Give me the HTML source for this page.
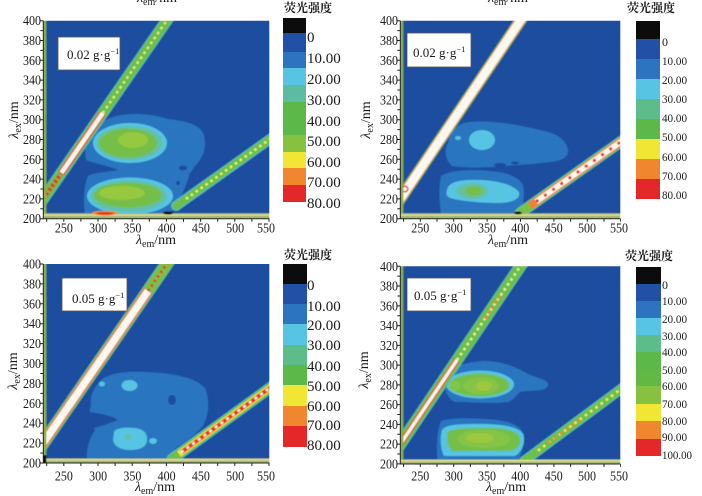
<!DOCTYPE html>
<html><head><meta charset="utf-8">
<style>
html,body{margin:0;padding:0;background:#fff;width:702px;height:496px;overflow:hidden}
svg{display:block}
.t{font-family:"Liberation Serif","Noto Serif CJK SC",serif;fill:#1a1a1a}
.cj{font-family:"Liberation Serif","Noto Serif CJK SC","Noto Sans CJK SC",serif;font-weight:bold;fill:#1a1a1a}
</style></head>
<body>
<svg width="702" height="496" viewBox="0 0 702 496" xmlns="http://www.w3.org/2000/svg">
<defs>
<clipPath id="cTL"><rect x="43.3" y="20.7" width="226" height="198"/></clipPath>
<clipPath id="cTR"><rect x="400.3" y="20.7" width="220" height="198"/></clipPath>
<clipPath id="cBL"><rect x="43.3" y="264" width="226" height="199"/></clipPath>
<clipPath id="cBR"><rect x="400.3" y="266.3" width="220" height="197.7"/></clipPath>
<filter id="bl" x="-5%" y="-5%" width="110%" height="110%"><feGaussianBlur stdDeviation="0.6"/></filter>
</defs>

<!-- partial top titles -->
<text class="t" x="157" y="2" font-size="14" text-anchor="middle"><tspan font-style="italic">λ</tspan><tspan font-size="10" dy="3">em</tspan><tspan dy="-3">/nm</tspan></text>
<text class="t" x="508" y="2" font-size="14" text-anchor="middle"><tspan font-style="italic">λ</tspan><tspan font-size="10" dy="3">em</tspan><tspan dy="-3">/nm</tspan></text>

<!-- ================= TL ================= -->
<g clip-path="url(#cTL)"><g filter="url(#bl)">
<rect x="40" y="17" width="233" height="205" fill="#1e4d9f"/>
<path fill="#2c74c0" d="M110,118 C125,112 150,113 168,119 C185,121 200,124 204,135 C207,148 203,158 195,166 C188,175 186,188 180,198 C176,205 172,210 170,214 L85,214 C83,200 84,185 88,176 C95,172 110,172 118,170 C110,166 95,164 86,160 C84,148 86,136 95,128 C100,123 105,120 110,118 Z"/>
<ellipse cx="183" cy="168" rx="4" ry="2.5" fill="#1e4d9f"/>
<ellipse cx="192" cy="176" rx="3" ry="4" fill="#1e4d9f"/>
<ellipse cx="178" cy="183" rx="2" ry="2" fill="#1e4d9f"/>
<ellipse cx="130" cy="143" rx="37" ry="20" fill="#56c4e2"/>
<ellipse cx="129.5" cy="143" rx="33" ry="17" fill="#62c0a8"/>
<ellipse cx="128" cy="143" rx="29" ry="14.5" fill="#74bf4a"/>
<ellipse cx="133" cy="140" rx="15" ry="8" fill="#96c840"/>
<ellipse cx="130" cy="196" rx="43" ry="18.5" fill="#56c4e2"/>
<ellipse cx="129" cy="196" rx="38" ry="15.5" fill="#62c0a8"/>
<ellipse cx="128" cy="195" rx="34" ry="12.5" fill="#74bf4a"/>
<ellipse cx="122" cy="193" rx="23" ry="7" fill="#96c840"/>
<!-- band2 -->
<line x1="176" y1="206" x2="285" y2="128.4" stroke="#56bcc4" stroke-width="10" stroke-linecap="round"/>
<line x1="176" y1="206" x2="285" y2="128.4" stroke="#6cc048" stroke-width="7.5" stroke-linecap="round"/>
<line x1="186" y1="198.9" x2="285" y2="128.4" stroke="#f0f070" stroke-width="2.5" stroke-dasharray="2.5 3.5"/>
<!-- band1 -->
<line x1="37.6" y1="207.2" x2="172.3" y2="12.5" stroke="#58b8b0" stroke-width="11.5"/>
<line x1="37.6" y1="207.2" x2="172.3" y2="12.5" stroke="#6cc048" stroke-width="9"/>
<line x1="61.3" y1="173" x2="102.8" y2="113" stroke="#e83028" stroke-width="7"/>
<line x1="61.3" y1="173" x2="102.8" y2="113" stroke="#fbf7ee" stroke-width="4.5"/>
<line x1="102.8" y1="113" x2="172.3" y2="12.5" stroke="#f4ec80" stroke-width="2.2" stroke-dasharray="2.5 3.5"/>
<line x1="37.6" y1="207.2" x2="61.3" y2="173" stroke="#e83028" stroke-width="4.5" stroke-dasharray="3 2"/>
<!-- strips -->
<rect x="40" y="17" width="6.3" height="205" fill="#86b04a"/>
<rect x="40" y="213.3" width="233" height="8" fill="#9eb872"/>
<rect x="40" y="214.3" width="233" height="1.5" fill="#e6e09a"/>
<ellipse cx="105" cy="213" rx="13" ry="2.3" fill="#f08a30"/>
<ellipse cx="105" cy="213.5" rx="9" ry="1.2" fill="#e02a28"/>
<ellipse cx="168" cy="213" rx="5" ry="1.6" fill="#111"/>
</g></g>
<path d="M43.3,20.7 V218.7 H269.3" fill="none" stroke="#222" stroke-width="1"/>
<line x1="41.8" y1="20.2" x2="41.8" y2="219.5" stroke="#222" stroke-width="3" stroke-dasharray="1 8.9"/>
<line x1="46.2" y1="220.2" x2="270" y2="220.2" stroke="#222" stroke-width="3" stroke-dasharray="1 16.1"/>
<g class="t" font-size="13.5" text-anchor="end">
<text x="41" y="25.2" textLength="18" lengthAdjust="spacingAndGlyphs">400</text>
<text x="41" y="45" textLength="18" lengthAdjust="spacingAndGlyphs">380</text>
<text x="41" y="64.8" textLength="18" lengthAdjust="spacingAndGlyphs">360</text>
<text x="41" y="84.6" textLength="18" lengthAdjust="spacingAndGlyphs">340</text>
<text x="41" y="104.4" textLength="18" lengthAdjust="spacingAndGlyphs">320</text>
<text x="41" y="124.2" textLength="18" lengthAdjust="spacingAndGlyphs">300</text>
<text x="41" y="144" textLength="18" lengthAdjust="spacingAndGlyphs">280</text>
<text x="41" y="163.8" textLength="18" lengthAdjust="spacingAndGlyphs">260</text>
<text x="41" y="183.6" textLength="18" lengthAdjust="spacingAndGlyphs">240</text>
<text x="41" y="203.4" textLength="18" lengthAdjust="spacingAndGlyphs">220</text>
<text x="41" y="223.2" textLength="18" lengthAdjust="spacingAndGlyphs">200</text>
</g>
<g class="t" font-size="13.5" text-anchor="middle">
<text x="63.9" y="232.5" textLength="18" lengthAdjust="spacingAndGlyphs">250</text>
<text x="98.1" y="232.5" textLength="18" lengthAdjust="spacingAndGlyphs">300</text>
<text x="132.4" y="232.5" textLength="18" lengthAdjust="spacingAndGlyphs">350</text>
<text x="166.6" y="232.5" textLength="18" lengthAdjust="spacingAndGlyphs">400</text>
<text x="200.9" y="232.5" textLength="18" lengthAdjust="spacingAndGlyphs">450</text>
<text x="235.1" y="232.5" textLength="18" lengthAdjust="spacingAndGlyphs">500</text>
<text x="266" y="232.5" textLength="18" lengthAdjust="spacingAndGlyphs">550</text>
</g>
<text class="t" x="156" y="244" font-size="14" text-anchor="middle"><tspan font-style="italic">λ</tspan><tspan font-size="10" dy="3">em</tspan><tspan dy="-3">/nm</tspan></text>
<text class="t" transform="translate(18,120) rotate(-90)" font-size="14" text-anchor="middle"><tspan font-style="italic">λ</tspan><tspan font-size="10" dy="3">ex</tspan><tspan dy="-3">/nm</tspan></text>
<rect x="58" y="37" width="62" height="33" fill="#fff" stroke="#555" stroke-width="0.8"/>
<text class="t" x="67" y="59" font-size="13">0.02 g·g<tspan font-size="8.5" dy="-5">−1</tspan></text>
<!-- TL legend -->
<text class="cj" x="308" y="12" font-size="12" text-anchor="middle">荧光强度</text>
<rect x="283" y="18" width="23" height="15" fill="#0c0c0c"/>
<rect x="283" y="33" width="23" height="19" fill="#2250a6"/>
<rect x="283" y="52" width="23" height="16" fill="#2c74c0"/>
<rect x="283" y="68" width="23" height="17" fill="#56c4e2"/>
<rect x="283" y="85" width="23" height="17" fill="#5cbca2"/>
<rect x="283" y="102" width="23" height="33" fill="#5cb848"/>
<rect x="283" y="135" width="23" height="17" fill="#86c240"/>
<rect x="283" y="152" width="23" height="16" fill="#f2e634"/>
<rect x="283" y="168" width="23" height="17" fill="#f0862e"/>
<rect x="283" y="185" width="23" height="17" fill="#e4282a"/>
<g class="t" font-size="15">
<text x="307" y="42">0</text>
<text x="307" y="63">10.00</text>
<text x="307" y="84">20.00</text>
<text x="307" y="105">30.00</text>
<text x="307" y="126">40.00</text>
<text x="307" y="146">50.00</text>
<text x="307" y="167">60.00</text>
<text x="307" y="187">70.00</text>
<text x="307" y="208">80.00</text>
</g>

<!-- ================= TR ================= -->
<g clip-path="url(#cTR)"><g filter="url(#bl)">
<rect x="397" y="17" width="227" height="205" fill="#1e4d9f"/>
<path fill="#2c74c0" d="M448,143 C450,130 458,123 470,122 C490,120 515,124 540,130 C555,133 566,138 568,150 C569,157 562,161 550,162 C535,164 520,165 505,166 C485,168 465,168 452,166 C445,160 444,150 448,143 Z"/>
<path fill="#2c74c0" d="M441,176 C450,170 470,169 490,171 C505,172 518,176 523,185 C525,195 523,205 521,214 L441,214 C439,200 439,185 441,176 Z"/>
<ellipse cx="500" cy="165" rx="6" ry="2" fill="#1e4d9f"/>
<ellipse cx="515" cy="163" rx="4" ry="1.5" fill="#1e4d9f"/>
<ellipse cx="482" cy="140" rx="13" ry="10" fill="#56c4e2"/>
<ellipse cx="458" cy="138" rx="3" ry="2" fill="#56c4e2"/>
<path fill="#56c4e2" d="M447,190 C448,183 458,180 470,180 C490,179 512,183 519,192 C521,199 512,203 498,203 C480,203 460,201 450,198 C446,196 446,193 447,190 Z"/>
<ellipse cx="472" cy="191" rx="16" ry="8" fill="#62c0a8"/>
<ellipse cx="474" cy="191" rx="9" ry="5" fill="#74bf4a"/>
<!-- band2 -->
<line x1="520" y1="213" x2="630" y2="135.2" stroke="#50bcc8" stroke-width="11" stroke-linecap="round"/>
<line x1="520" y1="213" x2="630" y2="135.2" stroke="#78c048" stroke-width="9.5" stroke-linecap="round"/>
<line x1="530" y1="206" x2="630" y2="135.2" stroke="#f08030" stroke-width="8"/>
<line x1="536" y1="201.7" x2="630" y2="135.2" stroke="#fcf8f0" stroke-width="5.5"/>
<line x1="536" y1="201.7" x2="630" y2="135.2" stroke="#e4282a" stroke-width="3" stroke-dasharray="3 7"/>
<!-- band1 -->
<line x1="394.7" y1="207.2" x2="525.9" y2="12.4" stroke="#7cc050" stroke-width="11.5"/>
<line x1="394.7" y1="207.2" x2="525.9" y2="12.4" stroke="#f08a30" stroke-width="10"/>
<line x1="394.7" y1="207.2" x2="525.9" y2="12.4" stroke="#fcf8f0" stroke-width="8.5"/>
<circle cx="405" cy="189" r="2.8" fill="none" stroke="#e4282a" stroke-width="1.5"/>
<!-- strips -->
<rect x="397" y="17" width="6.3" height="205" fill="#86b04a"/>
<rect x="397" y="213.3" width="227" height="8" fill="#9eb872"/>
<rect x="397" y="214.3" width="227" height="1.5" fill="#e6e09a"/>
<ellipse cx="518" cy="213" rx="4" ry="1.5" fill="#111"/>
</g></g>
<path d="M400.3,20.7 V218.7 H620.3" fill="none" stroke="#222" stroke-width="1"/>
<line x1="398.8" y1="20.2" x2="398.8" y2="219.5" stroke="#222" stroke-width="3" stroke-dasharray="1 8.9"/>
<line x1="403.1" y1="220.2" x2="621" y2="220.2" stroke="#222" stroke-width="3" stroke-dasharray="1 15.7"/>
<g class="t" font-size="13.5" text-anchor="end">
<text x="398" y="25.2" textLength="18" lengthAdjust="spacingAndGlyphs">400</text>
<text x="398" y="45" textLength="18" lengthAdjust="spacingAndGlyphs">380</text>
<text x="398" y="64.8" textLength="18" lengthAdjust="spacingAndGlyphs">360</text>
<text x="398" y="84.6" textLength="18" lengthAdjust="spacingAndGlyphs">340</text>
<text x="398" y="104.4" textLength="18" lengthAdjust="spacingAndGlyphs">320</text>
<text x="398" y="124.2" textLength="18" lengthAdjust="spacingAndGlyphs">300</text>
<text x="398" y="144" textLength="18" lengthAdjust="spacingAndGlyphs">280</text>
<text x="398" y="163.8" textLength="18" lengthAdjust="spacingAndGlyphs">260</text>
<text x="398" y="183.6" textLength="18" lengthAdjust="spacingAndGlyphs">240</text>
<text x="398" y="203.4" textLength="18" lengthAdjust="spacingAndGlyphs">220</text>
<text x="398" y="223.2" textLength="18" lengthAdjust="spacingAndGlyphs">200</text>
</g>
<g class="t" font-size="13.5" text-anchor="middle">
<text x="420.3" y="232.5" textLength="18" lengthAdjust="spacingAndGlyphs">250</text>
<text x="453.7" y="232.5" textLength="18" lengthAdjust="spacingAndGlyphs">300</text>
<text x="487" y="232.5" textLength="18" lengthAdjust="spacingAndGlyphs">350</text>
<text x="520.3" y="232.5" textLength="18" lengthAdjust="spacingAndGlyphs">400</text>
<text x="553.7" y="232.5" textLength="18" lengthAdjust="spacingAndGlyphs">450</text>
<text x="587" y="232.5" textLength="18" lengthAdjust="spacingAndGlyphs">500</text>
<text x="619" y="232.5" textLength="18" lengthAdjust="spacingAndGlyphs">550</text>
</g>
<text class="t" x="508" y="244" font-size="14" text-anchor="middle"><tspan font-style="italic">λ</tspan><tspan font-size="10" dy="3">em</tspan><tspan dy="-3">/nm</tspan></text>
<text class="t" transform="translate(370,120) rotate(-90)" font-size="14" text-anchor="middle"><tspan font-style="italic">λ</tspan><tspan font-size="10" dy="3">ex</tspan><tspan dy="-3">/nm</tspan></text>
<rect x="407" y="33" width="64" height="34" fill="#fff" stroke="#555" stroke-width="0.8"/>
<text class="t" x="413" y="57" font-size="13">0.02 g·g<tspan font-size="8.5" dy="-5">−1</tspan></text>
<!-- TR legend -->
<text class="cj" x="651" y="12" font-size="12" text-anchor="middle">荧光强度</text>
<rect x="636" y="21" width="24" height="18" fill="#0c0c0c"/>
<rect x="636" y="39" width="24" height="20" fill="#2250a6"/>
<rect x="636" y="59" width="24" height="20" fill="#2c74c0"/>
<rect x="636" y="79" width="24" height="20" fill="#56c4e2"/>
<rect x="636" y="99" width="24" height="20" fill="#5cbc8a"/>
<rect x="636" y="119" width="24" height="20" fill="#5cb848"/>
<rect x="636" y="139" width="24" height="20" fill="#f2e634"/>
<rect x="636" y="159" width="24" height="20" fill="#f0862e"/>
<rect x="636" y="179" width="24" height="20" fill="#e4282a"/>
<g class="t" font-size="12">
<text x="662" y="46">0</text>
<text x="662" y="65" textLength="25" lengthAdjust="spacingAndGlyphs">10.00</text>
<text x="662" y="84" textLength="25" lengthAdjust="spacingAndGlyphs">20.00</text>
<text x="662" y="103" textLength="25" lengthAdjust="spacingAndGlyphs">30.00</text>
<text x="662" y="122" textLength="25" lengthAdjust="spacingAndGlyphs">40.00</text>
<text x="662" y="141" textLength="25" lengthAdjust="spacingAndGlyphs">50.00</text>
<text x="662" y="161" textLength="25" lengthAdjust="spacingAndGlyphs">60.00</text>
<text x="662" y="180" textLength="25" lengthAdjust="spacingAndGlyphs">70.00</text>
<text x="662" y="199" textLength="25" lengthAdjust="spacingAndGlyphs">80.00</text>
</g>

<!-- ================= BL ================= -->
<g clip-path="url(#cBL)"><g filter="url(#bl)">
<rect x="40" y="260" width="233" height="207" fill="#1e4d9f"/>
<path fill="#2c74c0" d="M100,381 C110,372 130,370 160,373 C180,375 195,378 205,388 C210,400 209,415 203,426 C195,435 185,442 176,448 C172,453 170,458 168,463 L87,463 C86,452 88,440 95,430 C90,425 88,415 91,405 C90,398 92,390 100,381 Z"/>
<path fill="#1e4d9f" d="M88,412 C98,413 110,415 118,420 C108,424 98,427 90,429 Z"/>
<ellipse cx="172" cy="400" rx="4" ry="5" fill="#1e4d9f"/>
<ellipse cx="129.5" cy="385.5" rx="8" ry="5.5" fill="#56c4e2"/>
<ellipse cx="102" cy="384" rx="3" ry="2.5" fill="#56c4e2"/>
<path fill="#56c4e2" d="M114,432 C116,428 125,427 135,428 C144,429 148,434 147,441 C146,447 140,450 130,450 C120,450 114,446 113,440 Z"/>
<ellipse cx="128" cy="437" rx="4" ry="3" fill="#62c0a8"/>
<ellipse cx="153" cy="441" rx="4" ry="3" fill="#56c4e2"/>
<!-- band2 -->
<line x1="172" y1="459" x2="280" y2="380.6" stroke="#56bcc4" stroke-width="11" stroke-linecap="round"/>
<line x1="172" y1="459" x2="280" y2="380.6" stroke="#6cc048" stroke-width="9" stroke-linecap="round"/>
<line x1="179" y1="454" x2="280" y2="380.6" stroke="#f2e634" stroke-width="6.5"/>
<line x1="181" y1="452.5" x2="280" y2="380.6" stroke="#e83028" stroke-width="4"/>
<line x1="181" y1="452.5" x2="280" y2="380.6" stroke="#fcf8f0" stroke-width="2.5" stroke-dasharray="3 4"/>
<!-- band1 -->
<line x1="37.6" y1="451.2" x2="172.3" y2="255.8" stroke="#5cb8a8" stroke-width="13"/>
<line x1="37.6" y1="451.2" x2="172.3" y2="255.8" stroke="#78c048" stroke-width="11.5"/>
<line x1="37.6" y1="451.2" x2="148" y2="291" stroke="#f08838" stroke-width="10"/>
<line x1="37.6" y1="451.2" x2="148" y2="291" stroke="#e83028" stroke-width="8.8"/>
<line x1="37.6" y1="451.2" x2="148" y2="291" stroke="#fcf8f0" stroke-width="7.5"/>
<line x1="148" y1="291" x2="172.3" y2="255.8" stroke="#e83028" stroke-width="3" stroke-dasharray="2.5 3"/>
<!-- strips -->
<rect x="40" y="260" width="6.3" height="207" fill="#86b04a"/>
<rect x="40" y="458.5" width="233" height="8" fill="#9eb872"/>
<rect x="40" y="459" width="233" height="1.6" fill="#e6e09a"/>
<rect x="40" y="455" width="6.3" height="10" fill="#111"/>
</g></g>
<path d="M43.3,264 V463 H269.3" fill="none" stroke="#222" stroke-width="1"/>
<line x1="41.8" y1="263.5" x2="41.8" y2="463.8" stroke="#222" stroke-width="3" stroke-dasharray="1 8.95"/>
<line x1="46.2" y1="464.5" x2="270" y2="464.5" stroke="#222" stroke-width="3" stroke-dasharray="1 16.1"/>
<g class="t" font-size="13.5" text-anchor="end">
<text x="41" y="268.5" textLength="18" lengthAdjust="spacingAndGlyphs">400</text>
<text x="41" y="288.4" textLength="18" lengthAdjust="spacingAndGlyphs">380</text>
<text x="41" y="308.3" textLength="18" lengthAdjust="spacingAndGlyphs">360</text>
<text x="41" y="328.2" textLength="18" lengthAdjust="spacingAndGlyphs">340</text>
<text x="41" y="348.1" textLength="18" lengthAdjust="spacingAndGlyphs">320</text>
<text x="41" y="368" textLength="18" lengthAdjust="spacingAndGlyphs">300</text>
<text x="41" y="387.9" textLength="18" lengthAdjust="spacingAndGlyphs">280</text>
<text x="41" y="407.8" textLength="18" lengthAdjust="spacingAndGlyphs">260</text>
<text x="41" y="427.7" textLength="18" lengthAdjust="spacingAndGlyphs">240</text>
<text x="41" y="447.6" textLength="18" lengthAdjust="spacingAndGlyphs">220</text>
<text x="41" y="467.5" textLength="18" lengthAdjust="spacingAndGlyphs">200</text>
</g>
<g class="t" font-size="13.5" text-anchor="middle">
<text x="63.9" y="480.5" textLength="18" lengthAdjust="spacingAndGlyphs">250</text>
<text x="98.1" y="480.5" textLength="18" lengthAdjust="spacingAndGlyphs">300</text>
<text x="132.4" y="480.5" textLength="18" lengthAdjust="spacingAndGlyphs">350</text>
<text x="166.6" y="480.5" textLength="18" lengthAdjust="spacingAndGlyphs">400</text>
<text x="200.9" y="480.5" textLength="18" lengthAdjust="spacingAndGlyphs">450</text>
<text x="235.1" y="480.5" textLength="18" lengthAdjust="spacingAndGlyphs">500</text>
<text x="266" y="480.5" textLength="18" lengthAdjust="spacingAndGlyphs">550</text>
</g>
<text class="t" x="155" y="491" font-size="14" text-anchor="middle"><tspan font-style="italic">λ</tspan><tspan font-size="10" dy="3">em</tspan><tspan dy="-3">/nm</tspan></text>
<text class="t" transform="translate(17,371) rotate(-90)" font-size="14" text-anchor="middle"><tspan font-style="italic">λ</tspan><tspan font-size="10" dy="3">ex</tspan><tspan dy="-3">/nm</tspan></text>
<rect x="62" y="278" width="65" height="33" fill="#fff" stroke="#555" stroke-width="0.8"/>
<text class="t" x="72" y="303" font-size="13">0.05 g·g<tspan font-size="8.5" dy="-5">−1</tspan></text>
<!-- BL legend -->
<text class="cj" x="308" y="259" font-size="12" text-anchor="middle">荧光强度</text>
<rect x="283" y="264" width="24" height="20" fill="#0c0c0c"/>
<rect x="283" y="284" width="24" height="20" fill="#2250a6"/>
<rect x="283" y="304" width="24" height="20" fill="#2c74c0"/>
<rect x="283" y="324" width="24" height="21" fill="#56c4e2"/>
<rect x="283" y="345" width="24" height="20" fill="#5cbc8a"/>
<rect x="283" y="365" width="24" height="20" fill="#5cb848"/>
<rect x="283" y="385" width="24" height="21" fill="#f2e634"/>
<rect x="283" y="406" width="24" height="20" fill="#f0862e"/>
<rect x="283" y="426" width="24" height="21" fill="#e4282a"/>
<g class="t" font-size="15">
<text x="307" y="290">0</text>
<text x="307" y="311">10.00</text>
<text x="307" y="330">20.00</text>
<text x="307" y="350">30.00</text>
<text x="307" y="371">40.00</text>
<text x="307" y="391">50.00</text>
<text x="307" y="411">60.00</text>
<text x="307" y="430">70.00</text>
<text x="307" y="450">80.00</text>
</g>

<!-- ================= BR ================= -->
<g clip-path="url(#cBR)"><g filter="url(#bl)">
<rect x="397" y="262" width="227" height="206" fill="#1e4d9f"/>
<path fill="#2c74c0" d="M446,378 C452,366 465,362 484,361 C500,361 515,366 528,374 C540,379 550,380 548,386 C545,392 530,390 520,392 C515,396 514,400 508,402 C490,404 470,402 455,402 C447,398 443,390 446,378 Z"/>
<path fill="#2c74c0" d="M441,421 C455,417 475,418 498,420 C512,422 522,427 524,435 C525,445 521,452 518,464 L438,464 C436,450 437,430 441,421 Z"/>
<ellipse cx="480" cy="384.5" rx="34" ry="14" fill="#56c4e2"/>
<ellipse cx="479.5" cy="385" rx="30" ry="11.5" fill="#74bf4a"/>
<ellipse cx="481" cy="386" rx="18" ry="8.5" fill="#84c446"/>
<ellipse cx="484" cy="386" rx="8" ry="5" fill="#9cc83e"/>
<ellipse cx="455" cy="386" rx="6" ry="5" fill="#84c446"/>
<path fill="#56c4e2" d="M442,430 C446,424 460,424 480,424 C500,424 518,426 523,434 C526,442 522,452 515,456 L444,456 C440,448 440,437 442,430 Z"/>
<path fill="#74bf4a" d="M448,432 C452,428 470,428 490,428 C508,428 519,432 520,439 C521,446 516,451 505,451 L452,451 C447,445 446,437 448,432 Z"/>
<ellipse cx="484" cy="439" rx="27" ry="9" fill="#84c446"/>
<ellipse cx="480" cy="438" rx="14" ry="5" fill="#9cc83e"/>
<!-- band2 -->
<line x1="524" y1="461" x2="630" y2="382.3" stroke="#56bcc4" stroke-width="10" stroke-linecap="round"/>
<line x1="524" y1="461" x2="630" y2="382.3" stroke="#6cc048" stroke-width="8" stroke-linecap="round"/>
<line x1="538" y1="450.6" x2="630" y2="382.3" stroke="#f4ec70" stroke-width="2.5" stroke-dasharray="2.5 4"/>
<line x1="548" y1="443.2" x2="580" y2="419.4" stroke="#f08030" stroke-width="3" stroke-dasharray="2.5 5"/>
<!-- band1 -->
<line x1="394.7" y1="452.5" x2="525.9" y2="258" stroke="#58b8b0" stroke-width="12"/>
<line x1="394.7" y1="452.5" x2="525.9" y2="258" stroke="#6cc048" stroke-width="10"/>
<line x1="394.7" y1="452.5" x2="457" y2="360" stroke="#e83028" stroke-width="6"/>
<line x1="394.7" y1="452.5" x2="457" y2="360" stroke="#fcf8f0" stroke-width="3.5"/>
<line x1="457" y1="360" x2="525.9" y2="258" stroke="#f4f0b0" stroke-width="2.4" stroke-dasharray="2.5 3.5"/>
<line x1="485" y1="318.7" x2="500" y2="296.5" stroke="#f08030" stroke-width="3" stroke-dasharray="2.5 3.5"/>
<!-- strips -->
<rect x="397" y="262" width="6.3" height="206" fill="#86b04a"/>
<rect x="397" y="459.5" width="227" height="8" fill="#9eb872"/>
<rect x="397" y="460" width="227" height="1.6" fill="#e6e09a"/>
</g></g>
<path d="M400.3,266.3 V464 H620.3" fill="none" stroke="#222" stroke-width="1"/>
<line x1="398.8" y1="265.8" x2="398.8" y2="464.8" stroke="#222" stroke-width="3" stroke-dasharray="1 8.88"/>
<line x1="403.1" y1="465.5" x2="621" y2="465.5" stroke="#222" stroke-width="3" stroke-dasharray="1 15.7"/>
<g class="t" font-size="13.5" text-anchor="end">
<text x="398" y="270.8" textLength="18" lengthAdjust="spacingAndGlyphs">400</text>
<text x="398" y="290.6" textLength="18" lengthAdjust="spacingAndGlyphs">380</text>
<text x="398" y="310.3" textLength="18" lengthAdjust="spacingAndGlyphs">360</text>
<text x="398" y="330.1" textLength="18" lengthAdjust="spacingAndGlyphs">340</text>
<text x="398" y="349.9" textLength="18" lengthAdjust="spacingAndGlyphs">320</text>
<text x="398" y="369.7" textLength="18" lengthAdjust="spacingAndGlyphs">300</text>
<text x="398" y="389.4" textLength="18" lengthAdjust="spacingAndGlyphs">280</text>
<text x="398" y="409.2" textLength="18" lengthAdjust="spacingAndGlyphs">260</text>
<text x="398" y="429" textLength="18" lengthAdjust="spacingAndGlyphs">240</text>
<text x="398" y="448.7" textLength="18" lengthAdjust="spacingAndGlyphs">220</text>
<text x="398" y="468.5" textLength="18" lengthAdjust="spacingAndGlyphs">200</text>
</g>
<g class="t" font-size="13.5" text-anchor="middle">
<text x="420.3" y="480.5" textLength="18" lengthAdjust="spacingAndGlyphs">250</text>
<text x="453.7" y="480.5" textLength="18" lengthAdjust="spacingAndGlyphs">300</text>
<text x="487" y="480.5" textLength="18" lengthAdjust="spacingAndGlyphs">350</text>
<text x="520.3" y="480.5" textLength="18" lengthAdjust="spacingAndGlyphs">400</text>
<text x="553.7" y="480.5" textLength="18" lengthAdjust="spacingAndGlyphs">450</text>
<text x="587" y="480.5" textLength="18" lengthAdjust="spacingAndGlyphs">500</text>
<text x="619" y="480.5" textLength="18" lengthAdjust="spacingAndGlyphs">550</text>
</g>
<text class="t" x="506" y="491" font-size="14" text-anchor="middle"><tspan font-style="italic">λ</tspan><tspan font-size="10" dy="3">em</tspan><tspan dy="-3">/nm</tspan></text>
<text class="t" transform="translate(368,370) rotate(-90)" font-size="14" text-anchor="middle"><tspan font-style="italic">λ</tspan><tspan font-size="10" dy="3">ex</tspan><tspan dy="-3">/nm</tspan></text>
<rect x="407" y="278" width="64" height="33" fill="#fff" stroke="#555" stroke-width="0.8"/>
<text class="t" x="414" y="300" font-size="13">0.05 g·g<tspan font-size="8.5" dy="-5">−1</tspan></text>
<!-- BR legend -->
<text class="cj" x="649" y="260" font-size="12" text-anchor="middle">荧光强度</text>
<rect x="636" y="267" width="25" height="17" fill="#0c0c0c"/>
<rect x="636" y="284" width="25" height="17" fill="#2250a6"/>
<rect x="636" y="301" width="25" height="17" fill="#2c74c0"/>
<rect x="636" y="318" width="25" height="17" fill="#56c4e2"/>
<rect x="636" y="335" width="25" height="17" fill="#5cbc8a"/>
<rect x="636" y="352" width="25" height="18" fill="#5cb848"/>
<rect x="636" y="370" width="25" height="16" fill="#62b844"/>
<rect x="636" y="386" width="25" height="18" fill="#86c240"/>
<rect x="636" y="404" width="25" height="17" fill="#f2e634"/>
<rect x="636" y="421" width="25" height="18" fill="#f0862e"/>
<rect x="636" y="439" width="25" height="17" fill="#e4282a"/>
<g class="t" font-size="12">
<text x="662" y="289">0</text>
<text x="662" y="305" textLength="25" lengthAdjust="spacingAndGlyphs">10.00</text>
<text x="662" y="323" textLength="25" lengthAdjust="spacingAndGlyphs">20.00</text>
<text x="662" y="340" textLength="25" lengthAdjust="spacingAndGlyphs">30.00</text>
<text x="662" y="356" textLength="25" lengthAdjust="spacingAndGlyphs">40.00</text>
<text x="662" y="374" textLength="25" lengthAdjust="spacingAndGlyphs">50.00</text>
<text x="662" y="390" textLength="25" lengthAdjust="spacingAndGlyphs">60.00</text>
<text x="662" y="408" textLength="25" lengthAdjust="spacingAndGlyphs">70.00</text>
<text x="662" y="425" textLength="25" lengthAdjust="spacingAndGlyphs">80.00</text>
<text x="662" y="441" textLength="25" lengthAdjust="spacingAndGlyphs">90.00</text>
<text x="662" y="459" textLength="30" lengthAdjust="spacingAndGlyphs">100.00</text>
</g>
</svg>
</body></html>
